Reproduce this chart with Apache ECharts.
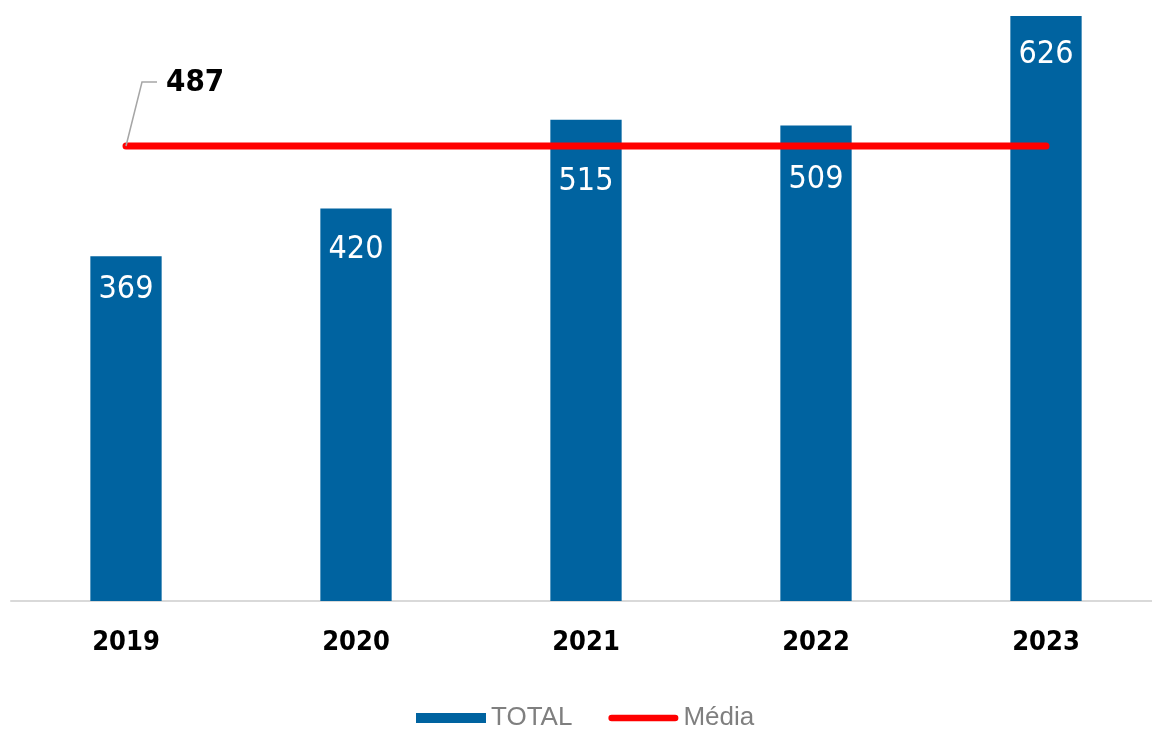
<!DOCTYPE html>
<html>
<head>
<meta charset="utf-8">
<script src="https://cdn.jsdelivr.net/npm/echarts@6/dist/echarts.min.js"></script>
<style>html,body{margin:0;padding:0;background:#fff;overflow:hidden;width:1152px;height:736px;}#c{width:1161px;height:736px;}</style>
</head>
<body>
<div id="c"></div>
<script>
const categories = ['2019', '2020', '2021', '2022', '2023'];
const totalValues = [369, 420, 515, 509, 626];
const mediaValues = [487, 487, 487, 487, 487];
const labelDistances = [17, 25, 46, 38, 23];

const FONT = "'Liberation Sans Narrow', 'Arial Narrow', 'DejaVu Sans Condensed', 'Liberation Sans', sans-serif";
const chart = echarts.init(document.getElementById('c'));

const totalData = totalValues.map((v, i) => ({
  value: v,
  label: { distance: labelDistances[i] }
}));

chart.setOption({
  animation: false,
  grid: { left: 11, right: 0, top: 3, bottom: 135 },
  xAxis: {
    type: 'category',
    data: categories,
    axisLine: { lineStyle: { color: '#d9d9d9', width: 2 } },
    axisTick: { show: false },
    axisLabel: {
      fontFamily: FONT, fontWeight: 'bold', fontSize: 27, color: '#000', margin: 28
    }
  },
  yAxis: { type: 'value', min: 0, max: 640, show: false, splitLine: { show: false } },
  legend: {
    left: 411,
    top: 700,
    itemWidth: 70,
    itemHeight: 10,
    itemGap: 36,
    textStyle: { fontFamily: "'Liberation Sans', Arial, sans-serif", fontSize: 26, color: '#7f7f7f' },
    data: [
      { name: 'TOTAL', icon: 'rect' },
      { name: 'Média', icon: 'path://M0,0M3.5,1.5h67a3.5,3.5 0 0 1 0,7h-67a3.5,3.5 0 0 1 0,-7zM74,10', itemStyle: { color: '#FF0000' } }
    ]
  },
  series: [
    {
      name: 'TOTAL',
      type: 'bar',
      data: totalData,
      barWidth: '31%',
      itemStyle: { color: '#0063A0' },
      label: {
        show: true,
        position: 'insideTop',
        fontFamily: FONT,
        fontSize: 32,
        color: '#fff'
      }
    },
    {
      name: 'Média',
      type: 'line',
      data: mediaValues,
      symbol: 'none',
      z: 3,
      lineStyle: { color: '#FF0000', width: 7, cap: 'round' },
      itemStyle: { color: '#FF0000' }
    }
  ]
});

const p = chart.convertToPixel({ seriesIndex: 1 }, [0, mediaValues[0]]);
chart.setOption({
  graphic: [
    {
      type: 'polyline',
      z: 10,
      shape: { points: [[p[0], p[1]], [p[0] + 16, p[1] - 64], [p[0] + 31, p[1] - 64]] },
      style: { stroke: '#a6a6a6', lineWidth: 1.5, fill: null }
    },
    {
      type: 'text',
      z: 10,
      x: p[0] + 40,
      y: p[1] - 63,
      style: {
        text: String(mediaValues[0]),
        font: "bold 31px " + FONT,
        fill: '#000',
        verticalAlign: 'middle',
        align: 'left'
      }
    }
  ]
});
</script>
</body>
</html>
